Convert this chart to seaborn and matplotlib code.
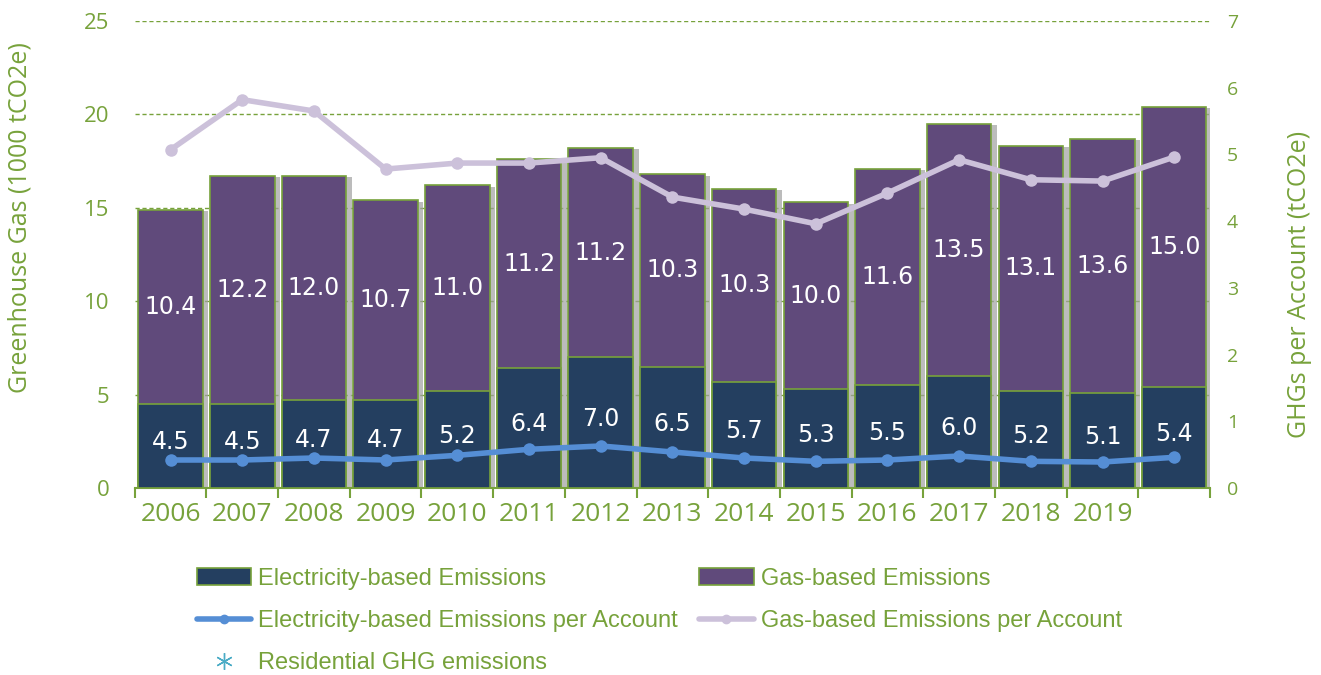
import numpy as np
import pandas as pd
import matplotlib
matplotlib.use("Agg")
import matplotlib.pyplot as plt
import matplotlib.patheffects as pe
from matplotlib.lines import Line2D
from matplotlib.patches import Patch
import seaborn as sns

# dane
years = [str(y) for y in range(2006, 2021)]
tick_labels = [str(y) for y in range(2006, 2020)] + [""]
elec = [4.5, 4.5, 4.7, 4.7, 5.2, 6.4, 7.0, 6.5, 5.7, 5.3, 5.5, 6.0, 5.2, 5.1, 5.4]
gas = [10.4, 12.2, 12.0, 10.7, 11.0, 11.2, 11.2, 10.3, 10.3, 10.0, 11.6, 13.5, 13.1, 13.6, 15.0]
elec_pa = [0.42, 0.42, 0.45, 0.42, 0.49, 0.58, 0.63, 0.54, 0.45, 0.40, 0.42, 0.48, 0.40, 0.39, 0.46]
gas_pa = [5.07, 5.82, 5.65, 4.78, 4.87, 4.87, 4.95, 4.36, 4.18, 3.96, 4.42, 4.92, 4.62, 4.60, 4.96]

df = pd.DataFrame({"year": years, "elec": elec, "gas": gas,
                   "elec_pa": elec_pa, "gas_pa": gas_pa})
df["total"] = df["elec"] + df["gas"]

GREEN = "#77A23B"
NAVY = "#243F60"
PURPLE = "#604A7B"
BLUE = "#558ED5"
LILAC = "#CCC1DA"

sns.set_style("white")
plt.rcParams["font.family"] = ["Open Sans", "DejaVu Sans"]

fig = plt.figure(figsize=(13.21, 6.75), dpi=100)
ax = fig.add_axes([0.102, 0.277, 0.814, 0.692])

# slupki: calosc (gaz) + prad na wierzchu
sns.barplot(data=df, x="year", y="total", color=PURPLE, saturation=1,
            edgecolor=GREEN, linewidth=1.2, width=0.9, ax=ax, zorder=2)
for p in ax.patches:
    p.set_path_effects([pe.SimplePatchShadow(offset=(4, -1), shadow_rgbFace="#a0a0a0", alpha=0.7),
                        pe.Normal()])
sns.barplot(data=df, x="year", y="elec", color=NAVY, saturation=1,
            edgecolor=GREEN, linewidth=1.2, width=0.9, ax=ax, zorder=3)

for i, (e, g) in enumerate(zip(elec, gas)):
    ax.text(i, e / 2 + 0.2, f"{e:.1f}", ha="center", va="center", color="white",
            fontsize=17, family="DejaVu Sans", zorder=6)
    ax.text(i, e + g / 2, f"{g:.1f}", ha="center", va="center", color="white",
            fontsize=17, family="DejaVu Sans", zorder=6)

ax.set_xlim(-0.5, 14.5)
ax.set_ylim(0, 25)
ax.set_yticks(range(0, 26, 5))
ax.yaxis.grid(True, linestyle=(0, (3, 2)), color=GREEN, linewidth=1)
ax.set_axisbelow(True)
ax.set_xlabel("")
ax.set_ylabel("Greenhouse Gas (1000 tCO2e)", color=GREEN, fontsize=18)
ax.yaxis.set_label_coords(-0.095, 0.58)
for s in ["top", "right", "left"]:
    ax.spines[s].set_visible(False)
ax.spines["bottom"].set_color(GREEN)
ax.spines["bottom"].set_linewidth(1.5)
ax.tick_params(axis="y", length=0, labelsize=16, labelcolor=GREEN, pad=18)

# linie na osi prawej
ax2 = ax.twinx()
x_pos = np.arange(len(years))
sns.lineplot(x=x_pos, y=df["gas_pa"], color=LILAC, linewidth=4, marker="o",
             markersize=9, markeredgewidth=0, ax=ax2, zorder=5)
sns.lineplot(x=x_pos, y=df["elec_pa"], color=BLUE, linewidth=4, marker="o",
             markersize=9, markeredgewidth=0, ax=ax2, zorder=5)
ax2.set_ylim(0, 7)
ax2.set_yticks(range(0, 8))
ax2.set_ylabel("GHGs per Account (tCO2e)", color=GREEN, fontsize=18)
ax2.yaxis.set_label_coords(1.072, 0.435)
ax2.tick_params(axis="y", length=0, labelsize=14, labelcolor=GREEN, pad=12)
for s in ["top", "right", "left", "bottom"]:
    ax2.spines[s].set_visible(False)

ax.set_xticks(range(len(years)))
ax.set_xticklabels(tick_labels)
ax.set_xticks(np.arange(-0.5, 15, 1), minor=True)
ax.tick_params(axis="x", which="major", length=0, labelsize=19, labelcolor=GREEN, pad=10)
ax.tick_params(axis="x", which="minor", length=7, width=1.5, color=GREEN, direction="out")
ax.xaxis.set_tick_params(which="minor", bottom=True)

handles = [
    Patch(facecolor=NAVY, edgecolor=GREEN, linewidth=1.2, label="Electricity-based Emissions"),
    Line2D([], [], color=BLUE, linewidth=4, marker="o", markersize=6, label="Electricity-based Emissions per Account"),
    Line2D([], [], color="#4BACC6", linestyle="none", marker=(6, 2, 0), markersize=12, label="Residential GHG emissions"),
    Patch(facecolor=PURPLE, edgecolor=GREEN, linewidth=1.2, label="Gas-based Emissions"),
    Line2D([], [], color=LILAC, linewidth=4, marker="o", markersize=6, label="Gas-based Emissions per Account"),
]
fig.legend(handles=handles, ncol=2, loc="upper left", bbox_to_anchor=(0.133, 0.19),
           frameon=False, labelcolor=GREEN, handlelength=2.3,
           handletextpad=0.3, columnspacing=0.9, labelspacing=0.85,
           prop={"family": ["Liberation Sans Narrow", "Liberation Sans", "DejaVu Sans"], "size": 17})

fig.savefig("out.png", dpi=100)
